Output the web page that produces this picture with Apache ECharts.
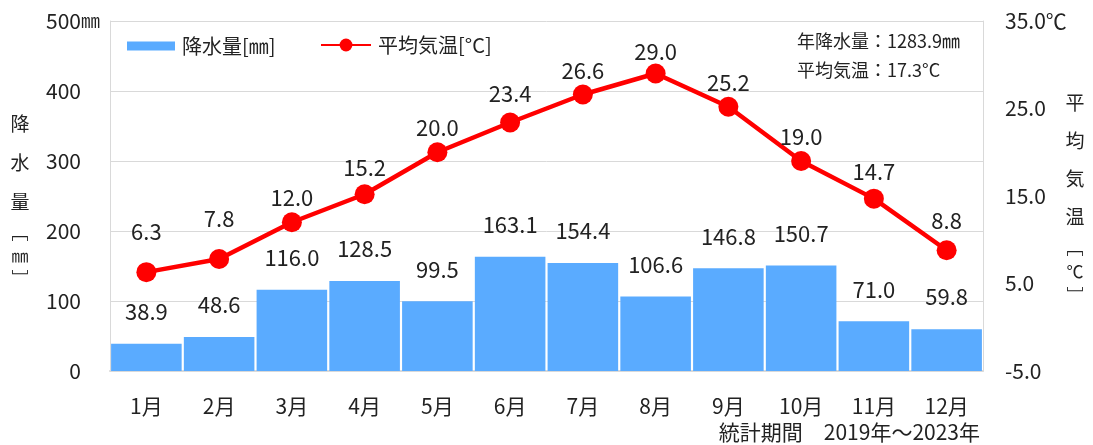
<!DOCTYPE html>
<html>
<head>
<meta charset="utf-8">
<script src="https://cdn.jsdelivr.net/npm/echarts@6/dist/echarts.min.js"></script>
<style>
  html, body { margin: 0; padding: 0; background: #fff; }
  #chart { width: 1093px; height: 445px; }
</style>
</head>
<body>
<div id="chart"></div>
<script>
// Monthly climate normals: precipitation (bars) and mean temperature (line)
const months = ['1月', '2月', '3月', '4月', '5月', '6月', '7月', '8月', '9月', '10月', '11月', '12月'];
const precipitation = [38.9, 48.6, 116.0, 128.5, 99.5, 163.1, 154.4, 106.6, 146.8, 150.7, 71.0, 59.8];
const temperature = [6.3, 7.8, 12.0, 15.2, 20.0, 23.4, 26.6, 29.0, 25.2, 19.0, 14.7, 8.8];

const annualPrecipitation = '1283.9';
const annualTemperature = '17.3';
const periodNote = '統計期間　2019年～2023年';

const precipTicks = [0, 100, 200, 300, 400, 500];
const tempTicks = [-5, 5, 15, 25, 35];

// vertical nudges (px) for individual temperature labels
const tempLabelNudge = [-15, -15, 0, -2, 0, -4, 1, 3, 1, 1, -2, -5];

const FONT = '"Noto Sans CJK JP", "Noto Sans", sans-serif';
const INK = '#222';
const BLUE = '#5AABFF';
const RED = '#FF0000';
const GRIDLINE = '#D9D9D9';

const chart = echarts.init(document.getElementById('chart'), null, { renderer: 'canvas' });

const option = {
  backgroundColor: '#fff',
  animation: false,
  textStyle: { fontFamily: FONT, color: INK },
  grid: { left: 110, right: 110, top: 21, bottom: 74, containLabel: false },
  legend: [
    {
      data: [{ name: '降水量[㎜]', icon: 'rect' }],
      left: 122, top: 31,
      itemWidth: 48, itemHeight: 9, itemGap: 8,
      textStyle: { fontFamily: FONT, fontSize: 20, color: INK, padding: [0, 0, 0, 2] }
    },
    {
      data: ['平均気温[°C]'],
      left: 315, top: 30,
      itemWidth: 50, itemHeight: 16,
      textStyle: { fontFamily: FONT, fontSize: 20, color: INK, padding: [0, 0, 0, 2] }
    }
  ],
  xAxis: {
    type: 'category',
    data: months,
    boundaryGap: true,
    axisLine: { show: true, lineStyle: { color: GRIDLINE, width: 2 } },
    axisTick: { show: false },
    axisLabel: { fontFamily: FONT, fontSize: 21, color: INK, margin: 25 }
  },
  yAxis: [
    {
      type: 'value',
      min: precipTicks[0],
      max: precipTicks[precipTicks.length - 1],
      interval: precipTicks[1] - precipTicks[0],
      position: 'left',
      axisLine: { show: true, lineStyle: { color: GRIDLINE, width: 1 } },
      axisTick: { show: false },
      splitLine: { show: true, lineStyle: { color: GRIDLINE, width: 1 } },
      axisLabel: {
        fontFamily: FONT, fontSize: 21, color: INK, margin: 10,
        formatter: v => String(v) + (v === precipTicks[precipTicks.length - 1] ? '{u|㎜}' : '{h|㎜}'),
        rich: {
          u: { fontFamily: FONT, fontSize: 19, color: INK },
          h: { fontFamily: FONT, fontSize: 19, color: 'rgba(0,0,0,0)' }
        }
      }
    },
    {
      type: 'value',
      min: tempTicks[0],
      max: tempTicks[tempTicks.length - 1],
      interval: tempTicks[1] - tempTicks[0],
      position: 'right',
      axisLine: { show: true, lineStyle: { color: GRIDLINE, width: 1 } },
      axisTick: { show: false },
      splitLine: { show: false },
      axisLabel: {
        fontFamily: FONT, fontSize: 21, color: INK, margin: 22,
        formatter: v => v.toFixed(1) + (v === tempTicks[tempTicks.length - 1] ? '℃' : '')
      }
    }
  ],
  series: [
    {
      name: '降水量[㎜]',
      type: 'bar',
      yAxisIndex: 0,
      data: precipitation,
      barCategoryGap: '3%',
      itemStyle: { color: BLUE },
      label: {
        show: true, position: 'top', distance: 21,
        fontFamily: FONT, fontSize: 22, color: INK,
        formatter: p => p.value.toFixed(1)
      },
      z: 2
    },
    {
      name: '平均気温[°C]',
      type: 'line',
      yAxisIndex: 1,
      data: temperature.map((t, i) => ({
        value: t,
        label: { offset: [0, tempLabelNudge[i]] }
      })),
      symbol: 'circle',
      symbolSize: 20,
      itemStyle: { color: RED },
      lineStyle: { color: RED, width: 4.5 },
      label: {
        show: true, position: 'top', distance: 4,
        fontFamily: FONT, fontSize: 22, color: INK,
        formatter: p => Number(p.value).toFixed(1)
      },
      z: 5
    }
  ],
  graphic: [
    {
      type: 'text', left: 797, top: 32, z: 10,
      style: { text: '年降水量：' + annualPrecipitation + '㎜', fontFamily: FONT, fontSize: 18, fill: INK }
    },
    {
      type: 'text', left: 797, top: 61, z: 10,
      style: { text: '平均気温：' + annualTemperature + '°C', fontFamily: FONT, fontSize: 18, fill: INK }
    },
    {
      type: 'text', right: 113, top: 422, z: 10,
      style: { text: periodNote, fontFamily: FONT, fontSize: 21, fill: INK }
    },
    {
      type: 'text', x: 20, y: 104, z: 10,
      style: {
        text: '降\n水\n量\n{b|﹇}\n{b|㎜}\n{b|﹈}',
        fontFamily: FONT, fontSize: 19, lineHeight: 39, fill: INK, align: 'center',
        rich: { b: { fontFamily: FONT, fontSize: 17, lineHeight: 23, fill: INK, align: 'center' } }
      }
    },
    {
      type: 'text', x: 1075, y: 84, z: 10,
      style: {
        text: '平\n均\n気\n温\n{b|﹇}\n{b|℃}\n{b|﹈}',
        fontFamily: FONT, fontSize: 19, lineHeight: 38, fill: INK, align: 'center',
        rich: { b: { fontFamily: FONT, fontSize: 17, lineHeight: 24, fill: INK, align: 'center' } }
      }
    }
  ]
};

chart.setOption(option);
</script>
</body>
</html>
